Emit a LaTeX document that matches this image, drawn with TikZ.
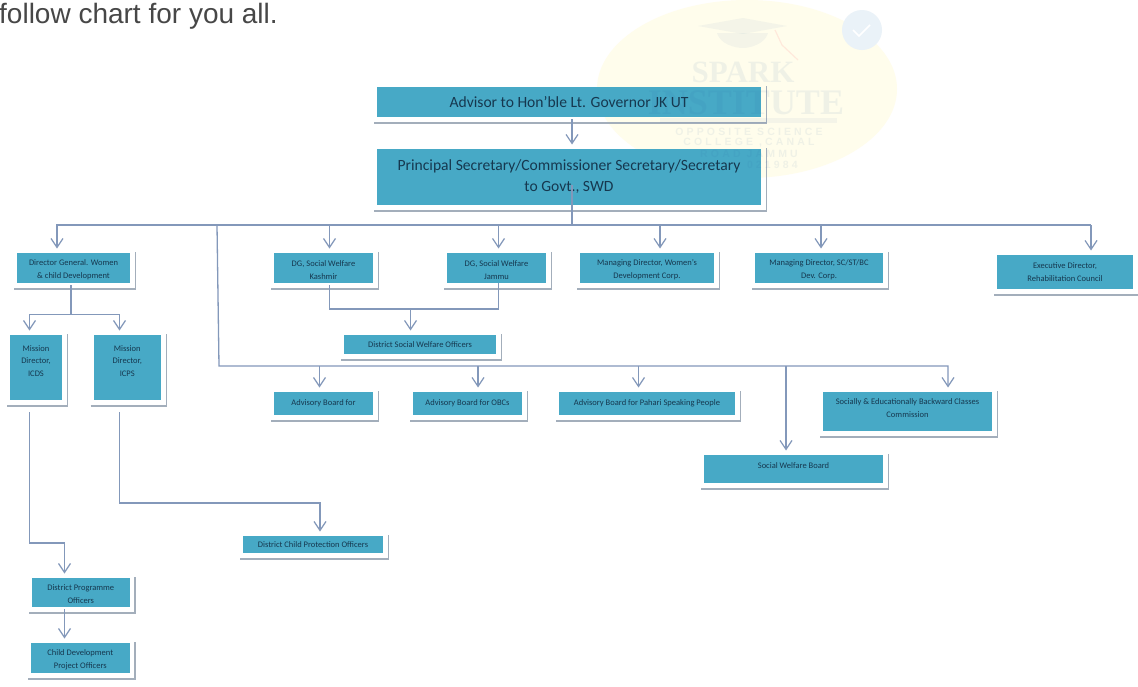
\documentclass[tikz,border=0pt]{standalone}
\usepackage{fontspec}
\setmainfont{Carlito}
\newfontfamily\wmserif{Liberation Serif}
\newfontfamily\wmsans[LetterSpace=30]{Liberation Sans}
\newfontfamily\topfont{Liberation Sans}
\usetikzlibrary{arrows.meta}
\definecolor{boxteal}{HTML}{47A9C6}
\definecolor{boxtext}{HTML}{16384F}
\definecolor{conncol}{HTML}{8398BA}
\definecolor{shadowcol}{HTML}{A3AEBB}
\definecolor{wmyellow}{HTML}{FFFDEC}
\definecolor{wmblue}{HTML}{2A5FA0}
\definecolor{wmbadge}{HTML}{EAF2F8}
\tikzset{
  orgbox/.style={fill=boxteal,inner sep=0pt,outer sep=0pt,align=center,text=boxtext,font=\fontsize{8.5}{12.6}\selectfont},
  bigbox/.style={font=\fontsize{15.6}{21}\selectfont},
  shadowline/.style={draw=shadowcol,line width=1.7pt},
  conn/.style={draw=conncol,line width=1.3pt,line join=miter},
  arr/.style={conn,shorten >=4.5pt,-{Straight Barb[length=9pt,width=12pt,line width=1.2pt]}},
  wmark/.style={text=wmblue,opacity=.07,inner sep=0pt},
}
\newcommand{\tg}{\rule{0pt}{9.5pt}}
\newcommand{\obox}[7][]{%
  \pgfmathsetmacro{\bw}{#5-#3}\pgfmathsetmacro{\bh}{#6-#4}%
  \pgfmathsetmacro{\bx}{(#3+#5)/2}\pgfmathsetmacro{\by}{(#4+#6)/2}%
  \node[orgbox,#1,minimum width=\bw pt,minimum height=\bh pt] (#2) at (\bx,\by) {#7};
  \draw[shadowline] ([xshift=-3pt,yshift=-6pt]#2.south west) -- ([xshift=5.5pt,yshift=-6pt]#2.south east) -- ([xshift=5.5pt,yshift=1.5pt]#2.north east);
}
\begin{document}
\begin{tikzpicture}[x=1pt,y=-1pt]
\useasboundingbox (0,0) rectangle (1138,686);
\fill[white] (0,0) rectangle (1138,686);
% page text
\node[anchor=base west,inner sep=0pt,text=black!72,font=\topfont\fontsize{28}{30}\selectfont] (intro) at (-1,23) {follow chart for you all.};
% watermark backdrop
\fill[wmyellow] (747,89) ellipse [x radius=150,y radius=89];
\fill[wmblue,opacity=.05] (698,26) -- (743,18) -- (787,26) -- (743,34) -- cycle;
\fill[wmblue,opacity=.05] (717,33) -- (768,33) .. controls (765,44) and (750,48) .. (743,48) .. controls (735,48) and (720,44) .. (717,33) -- cycle;
\draw[red!40,opacity=.2,line width=1.2pt] (775,30) -- (782,45) -- (798,60);
\fill[wmbadge] (862,30) circle [radius=20];
\draw[white,line width=1.6pt] (853,30) -- (859,36) -- (870,25);
% boxes
\obox[bigbox]{adv}{377}{87}{761}{117}{Advisor to Hon’ble Lt. Governor JK UT}
\obox[bigbox]{sec}{377}{149}{761}{205}{Principal Secretary/Commissioner Secretary/Secretary\\to Govt., SWD}
\obox{dgw}{17}{253}{130}{283}{\tg Director General. Women\\\& child Development}
\obox{dgk}{274}{253}{373}{283}{\tg DG, Social Welfare\\Kashmir}
\obox{dgj}{447}{253}{546}{283}{\tg DG, Social Welfare\\Jammu}
\obox{mdw}{580}{253}{714}{283}{\tg Managing Director, Women’s\\Development Corp.}
\obox{mds}{755}{253}{883}{283}{\tg Managing Director, SC/ST/BC\\Dev. Corp.}
\obox{exe}{997}{255}{1133}{289}{Executive Director,\\Rehabilitation Council}
\obox{mdi}{10}{335}{62}{400}{Mission\\Director,\\ICDS\\[1pt]\mbox{}}
\obox{mdp}{93.5}{335}{161}{400}{Mission\\Director,\\ICPS\\[1pt]\mbox{}}
\obox{dsw}{344}{335}{496}{354}{District Social Welfare Officers}
\obox{abf}{274}{392}{373}{415}{Advisory Board for}
\obox{abo}{413}{392}{522}{415}{Advisory Board for OBCs}
\obox{abp}{559}{392}{735}{415}{Advisory Board for Pahari Speaking People}
\obox{sebc}{823}{392}{992}{431}{Socially \& Educationally Backward Classes\\Commission\\[-6pt]\mbox{}}
\obox{swb}{704}{455}{883}{483}{Social Welfare Board\\[-5pt]\mbox{}}
\obox{dcp}{243}{536}{383}{553}{District Child Protection Officers}
\obox{dpo}{32}{578}{129.5}{607}{\tg District Programme\\Officers}
\obox{cdp}{31}{643}{129.5}{673}{\tg Child Development\\Project Officers}
% routing coordinates
\coordinate (xa) at (572,225);
\coordinate (busL) at (57,225);
\coordinate (busR) at (1091,225);
\coordinate (b2) at (329.5,225);
\coordinate (b3) at (498.5,225);
\coordinate (b4) at (660,225);
\coordinate (b5) at (821,225);
\coordinate (t0) at (217,225);
\coordinate (t1) at (219,366);
\coordinate (t2) at (948,366);
\coordinate (c1) at (319.5,366);
\coordinate (c2) at (478,366);
\coordinate (c3) at (638.5,366);
\coordinate (c4) at (786,366);
\coordinate (wsplit) at (71,314.5);
\coordinate (wl) at (29.5,314.5);
\coordinate (wr) at (119.5,314.5);
\coordinate (kj) at (329.5,309);
\coordinate (jj) at (498.5,309);
\coordinate (dj) at (410.5,309);
\coordinate (i1) at (29.5,543);
\coordinate (i2) at (64.5,543);
\coordinate (p1) at (119.5,503);
\coordinate (p2) at (320,503);
% connectors
\draw[arr] (xa |- adv.south) ++(0,2) -- (xa |- sec.north);
\draw[conn] (xa |- sec.south) ++(0,-20) -- (xa);
\draw[arr] (busR) -- (busL) -- (busL |- dgw.north);
\draw[arr] (busR) -- (busR |- exe.north);
\draw[arr] (b2) -- (b2 |- dgk.north);
\draw[arr] (b3) -- (b3 |- dgj.north);
\draw[arr] (b4) -- (b4 |- mdw.north);
\draw[arr] (b5) -- (b5 |- mds.north);
\draw[arr] (t0) -- (t1) -- (t2) -- (t2 |- sebc.north);
\draw[arr] (c1) -- (c1 |- abf.north);
\draw[arr] (c2) -- (c2 |- abo.north);
\draw[arr] (c3) -- (c3 |- abp.north);
\draw[arr] (c4) -- (c4 |- swb.north);
\draw[conn] (wsplit |- dgw.south) ++(0,2) -- (wsplit);
\draw[arr] (wsplit) -- (wl) -- (wl |- mdi.north);
\draw[arr] (wsplit) -- (wr) -- (wr |- mdp.north);
\draw[conn] (kj |- dgk.south) ++(0,2) -- (kj) -- (jj) -- (jj |- dgj.south);
\draw[arr] (dj) -- (dj |- dsw.north);
\draw[arr] (i1 |- mdi.south) ++(0,12) -- (i1) -- (i2) -- (i2 |- dpo.north);
\draw[arr] (p1 |- mdp.south) ++(0,12) -- (p1) -- (p2) -- (p2 |- dcp.north);
\draw[arr] (i2 |- dpo.south) ++(0,2) -- (i2 |- cdp.north);
% watermark lettering, over the boxes
\node[wmark,font=\wmserif\bfseries\fontsize{31}{31}\selectfont] (wm1) at (743,72) {SPARK};
\node[wmark,font=\wmserif\bfseries\fontsize{36}{36}\selectfont] (wm2) at (746,103) {INSTITUTE};
\fill[wmblue,opacity=.05] (660,118) rectangle (837,123);
\node[wmark,font=\wmsans\bfseries\fontsize{10.5}{10.5}\selectfont] (wm3) at (749,132) {OPPOSITE SCIENCE};
\node[wmark,font=\wmsans\bfseries\fontsize{10.5}{10.5}\selectfont] (wm4) at (749,143) {COLLEGE ,CANAL};
\node[wmark,font=\wmsans\bfseries\fontsize{10.5}{10.5}\selectfont] (wm5) at (749,154) {ROAD JAMMU};
\node[wmark,anchor=east,font=\wmsans\bfseries\fontsize{10.5}{10.5}\selectfont] (wm6) at (798,165) {021984};
\end{tikzpicture}
\end{document}
